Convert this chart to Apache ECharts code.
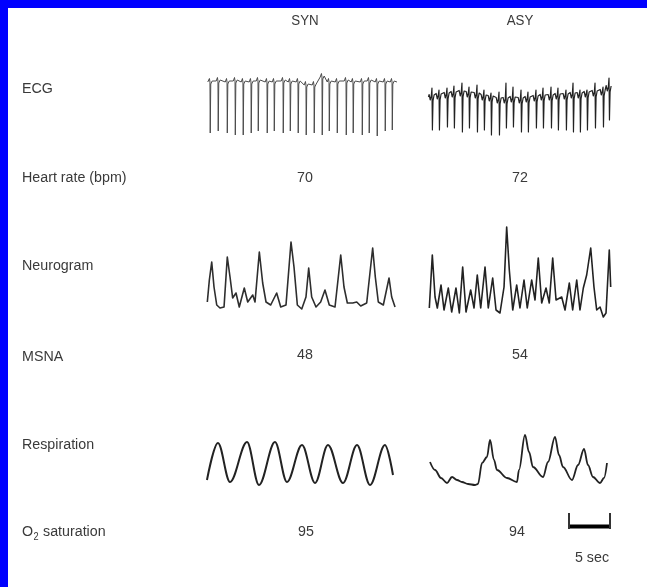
<!doctype html>
<html lang="en">
<head>
<meta charset="UTF-8">
<script src="https://cdn.jsdelivr.net/npm/echarts@6.0.0/dist/echarts.min.js"></script>
<title>SYN / ASY</title>
<style>html,body{margin:0;padding:0;background:#fff;}</style>
</head>
<body>
<div id="main" style="width:647px;height:587px;"></div>
<script>
// column headers and row labels
var columns = ['SYN', 'ASY'];
var rowLabels = ['ECG', 'Heart rate (bpm)', 'Neurogram', 'MSNA', 'Respiration'];
var heartRate = [70, 72];
var msna = [48, 54];
var o2sat = [95, 94];

// ECG, SYN: beat times (s), spike depth, baseline offset
var ecgSynT = [0.45, 1.36, 2.39, 3.30, 4.20, 5.11, 5.91, 6.93, 7.73, 8.75, 9.55, 10.45,
  11.36, 12.27, 13.18, 13.98, 14.89, 15.91, 16.70, 17.73, 18.52, 19.43, 20.34, 21.14];
var ecgSynDepth = [5.1, 4.9, 5.1, 5.3, 5.3, 5.1, 4.9, 5.1, 4.9, 5.1, 4.9, 5.1,
  5.3, 5.1, 5.3, 4.9, 5.1, 5.3, 5.1, 5.3, 5.1, 5.4, 4.9, 4.8];
var ecgSynBase = [0, 0.1, 0, 0.1, 0, 0, 0.1, 0, 0, 0.1, 0, 0,
  -0.3, -0.3, 0.5, 0, 0, 0.1, 0, 0, 0.1, 0, 0, 0];

// ECG, ASY: beat times, top of upstroke, bottom of downstroke, baseline
var ecgAsyT = [0.45, 1.25, 2.16, 2.95, 3.86, 4.66, 5.57, 6.36, 7.16, 8.07, 8.86, 9.66,
  10.57, 11.36, 12.27, 13.07, 13.98, 14.77, 15.68, 16.48, 17.27, 18.07, 18.98, 19.89, 20.57];
var ecgAsyTop = [0.9, 0.7, 0.9, 1.1, 1.4, 1.0, 1.2, 0.7, 0.4, 0.5, 1.4, 1.0,
  0.7, 0.5, 0.7, 0.9, 1.0, 0.9, 0.7, 1.4, 0.7, 0.7, 1.4, 1.0, 1.9];
var ecgAsyBottom = [-3.3, -3.3, -3.0, -3.1, -3.5, -3.1, -3.5, -3.3, -3.8, -3.8, -3.1, -3.0,
  -3.5, -3.5, -3.1, -3.1, -3.1, -3.3, -3.3, -3.5, -3.5, -3.3, -3.1, -3.0, -2.3];
var ecgAsyBase = [0, 0.1, 0.2, 0.3, 0.4, 0.3, 0.2, 0, -0.1, -0.3, -0.3, -0.2,
  -0.3, -0.2, -0.1, 0, 0, 0.1, 0.1, 0.2, 0.2, 0.3, 0.4, 0.5, 0.9];

// Neurogram
var neuroSynT = [0.15, 0.38, 0.65, 0.91, 1.22, 1.59, 2.05, 2.42, 2.73, 3.03, 3.41, 3.78,
  4.35, 4.74, 5.31, 5.57, 6.06, 6.44, 6.82, 7.35, 8.03, 8.49, 9.09, 9.66, 10.0, 10.38,
  10.88, 11.36, 11.67, 12.01, 12.5, 13.03, 13.52, 14.01, 14.66, 15.31, 15.68, 16.06,
  16.67, 17.13, 17.58, 18.26, 18.94, 19.24, 19.58, 20.15, 20.8, 21.1, 21.48];
var neuroSynV = [0.6, 2.8, 4.6, 2.1, 0.3, 0, 0.1, 5.1, 3.1, 1.0, 1.5, 0.1,
  2.0, 0.6, 1.3, 0.6, 5.6, 2.5, 0.6, 0.3, 1.5, 0.1, 0.3, 6.6, 4.1, 0.3,
  -0.1, 1.1, 4.0, 1.1, 0.1, 0.6, 1.8, 0.3, 0.1, 5.3, 2.1, 0.5,
  0.5, 0.6, 0.2, 0.5, 6.0, 3.1, 0.6, 0.3, 3.0, 1.1, 0.1];
var neuroAsyT = [0.15, 0.49, 0.8, 1.06, 1.48, 1.82, 2.31, 2.69, 3.18, 3.56, 3.94, 4.32,
  4.85, 5.23, 5.6, 5.99, 6.48, 6.85, 7.35, 7.73, 8.18, 8.64, 8.94, 9.24, 9.63, 10.08,
  10.45, 10.91, 11.28, 11.78, 12.16, 12.53, 12.92, 13.41, 13.78, 14.17, 14.55, 15.19,
  15.57, 16.06, 16.44, 16.9, 17.27, 17.65, 18.03, 18.49, 18.86, 19.17, 19.55, 19.92,
  20.23, 20.6, 20.76];
var neuroAsyV = [0.4, 5.7, 1.5, 0.4, 2.7, 0.2, 2.4, 0, 2.4, -0.1, 4.5, 0,
  2.2, 0.4, 3.7, 0.4, 4.5, 0.4, 3.4, 0.2, -0.1, 2.5, 8.5, 4.2, 0.2, 2.7,
  0.4, 3.2, 0.4, 3.2, 1.2, 5.4, 0.9, 2.4, 0.9, 5.4, 1.2, 1.5,
  0.2, 2.9, 0.2, 3.2, 0.2, 2.4, 3.7, 6.4, 2.5, 0.2, 0.5, -0.5,
  -0.1, 6.2, 2.5];

// Respiration
var respSynT = [0.11, 1.36, 2.73, 4.66, 6.02, 7.84, 9.2, 10.91, 12.39, 13.86, 15.57, 17.16, 18.64, 20.34, 21.25];
var respSynV = [1.0, 4.7, 0.8, 4.8, 0.5, 4.8, 0.8, 4.5, 0.7, 4.5, 0.7, 4.5, 0.5, 4.5, 1.5];
var respAsyT = [0.23, 0.8, 1.48, 2.16, 2.73, 3.3, 3.86, 4.55, 5.34, 5.68, 6.14, 6.7, 7.05, 7.5,
  7.84, 8.98, 10.11, 10.34, 11.02, 11.48, 11.93, 13.07, 13.64, 14.43, 14.89, 15.34,
  16.36, 17.05, 17.73, 18.18, 18.75, 19.55, 20.0, 20.34];
var respAsyV = [2.8, 2.0, 1.2, 0.7, 1.3, 1.0, 0.8, 0.6, 0.5, 0.6, 2.7, 3.3, 5.0, 3.0,
  2.0, 1.2, 0.8, 2.0, 5.5, 3.8, 2.3, 1.3, 2.8, 5.3, 3.5, 2.3,
  1.0, 2.5, 4.1, 2.5, 1.3, 0.7, 1.2, 2.7];

var scaleSec = 5;

function zip(t, v) {
  var out = [];
  for (var i = 0; i < t.length; i++) out.push([t[i], v[i]]);
  return out;
}

function ecgSynData() {
  var pts = [[0.2, 0]];
  for (var i = 0; i < ecgSynT.length; i++) {
    var t = ecgSynT[i], b = ecgSynBase[i];
    pts.push([t - 0.2, b], [t - 0.06, b + 0.35], [t, b], [t + 0.03, -ecgSynDepth[i]], [t + 0.09, b - 0.2], [t + 0.25, b + 0.1]);
  }
  pts.push([21.7, 0]);
  return pts;
}

function ecgAsyData() {
  var pts = [[0.05, 0]];
  for (var i = 0; i < ecgAsyT.length; i++) {
    var t = ecgAsyT[i], b = ecgAsyBase[i];
    pts.push([t - 0.32, b + 0.25], [t - 0.2, b - 0.3], [t - 0.08, b + 0.1], [t, ecgAsyTop[i]],
      [t + 0.05, ecgAsyBottom[i]], [t + 0.12, b - 0.4], [t + 0.24, b + 0.2]);
  }
  return pts;
}

var chart = echarts.init(document.getElementById('main'));

var px = 8.8; // pixels per second
var traceW = 22 * px;
var grids = [
  {left: 206, top: 72, width: traceW, height: 70},
  {left: 428, top: 72, width: traceW, height: 70},
  {left: 206, top: 233, width: traceW, height: 80},
  {left: 428, top: 220, width: traceW, height: 100},
  {left: 206, top: 430, width: traceW, height: 60},
  {left: 428, top: 430, width: traceW, height: 60},
  {left: 569, top: 513, width: 41, height: 16}
];
var yRanges = [[-6, 1], [-4.5, 2.5], [-0.5, 7.5], [-0.8, 9.2], [0, 6], [0, 6], [0, 1]];

var xAxes = [], yAxes = [];
for (var g = 0; g < grids.length; g++) {
  xAxes.push({type: 'value', gridIndex: g, min: 0, max: g === 6 ? scaleSec : 22, show: false});
  yAxes.push({type: 'value', gridIndex: g, min: yRanges[g][0], max: yRanges[g][1], show: false});
}

function trace(idx, data, color, width, smooth) {
  return {
    type: 'line', xAxisIndex: idx, yAxisIndex: idx, data: data,
    showSymbol: false, smooth: smooth || false, smoothMonotone: 'x', silent: true,
    lineStyle: {color: color, width: width, join: 'round'}
  };
}

var textColor = '#3a3a3a';
// scan lettering is narrow and tall: larger size squeezed horizontally
function label(x, y, text, align, size) {
  return {
    type: 'text', x: x, y: y, silent: true, scaleX: 0.92,
    style: {text: text, font: (size || 15.5) + 'px "Liberation Sans", Arial, sans-serif',
      fill: textColor, textAlign: align || 'left', textVerticalAlign: 'middle'}
  };
}

var rowY = [89, 178, 266, 357, 445];
var colX = [305, 520];
var graphics = [
  {type: 'rect', shape: {x: 0, y: 0, width: 647, height: 8}, style: {fill: '#0000ff'}},
  {type: 'rect', shape: {x: 0, y: 0, width: 8, height: 587}, style: {fill: '#0000ff'}}
];
for (var c = 0; c < columns.length; c++) {
  graphics.push(label(colX[c], 21, columns[c], 'center', 14.5));
  graphics.push(label(colX[c], 178, String(heartRate[c]), 'center'));
  graphics.push(label(colX[c], 355, String(msna[c]), 'center'));
  graphics.push(label(colX[c] - (c ? 3 : -1), 532, String(o2sat[c]), 'center'));
}
for (var r = 0; r < rowLabels.length; r++) {
  graphics.push(label(22, rowY[r], rowLabels[r]));
}
graphics.push(label(22, 532, 'O'));
graphics.push(label(33.5, 537, '2', 'left', 10));
graphics.push(label(43, 532, 'saturation'));
graphics.push(label(592, 558, scaleSec + ' sec', 'center'));

var option = {
  animation: false,
  backgroundColor: '#ffffff',
  grid: grids,
  xAxis: xAxes,
  yAxis: yAxes,
  graphic: graphics,
  series: [
    trace(0, ecgSynData(), '#4a4a4a', 1),
    trace(1, ecgAsyData(), '#222', 1.2),
    trace(2, zip(neuroSynT, neuroSynV), '#2e2e2e', 1.6),
    trace(3, zip(neuroAsyT, neuroAsyV), '#222', 1.6),
    trace(4, zip(respSynT, respSynV), '#222', 2, 0.35),
    trace(5, zip(respAsyT, respAsyV), '#222', 1.8, 0.35),
    trace(6, [[0, 0.15], [scaleSec, 0.15]], '#000', 4),
    trace(6, [[0, 1], [0, 0]], '#333', 2),
    trace(6, [[scaleSec, 1], [scaleSec, 0]], '#333', 2)
  ]
};

chart.setOption(option);
</script>
</body>
</html>
